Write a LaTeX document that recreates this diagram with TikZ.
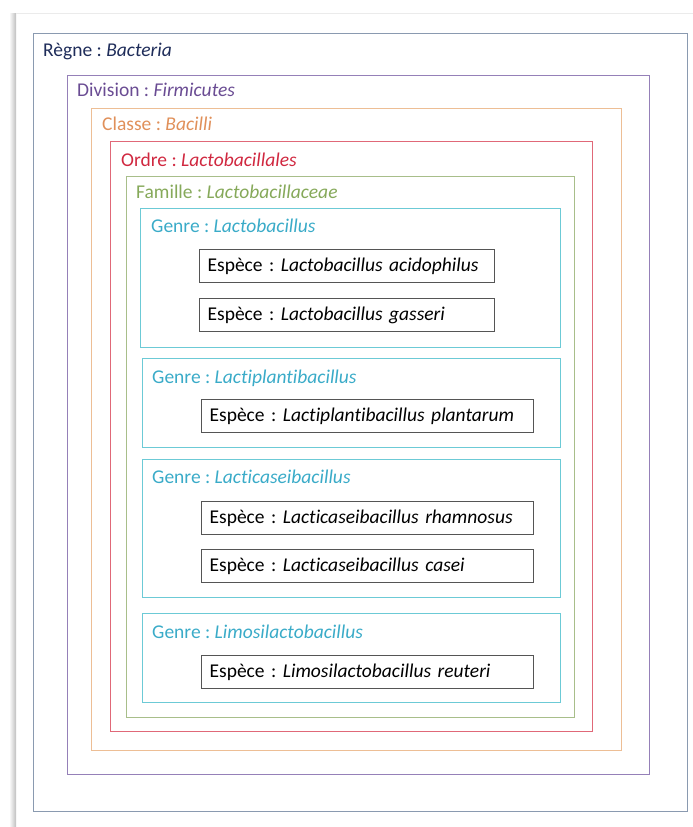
\documentclass[tikz,border=0pt]{standalone}
\usepackage{fontspec}
\setmainfont[Ligatures=NoCommon]{Carlito}
\usepackage{tikz}
\frenchspacing
\definecolor{regneC}{HTML}{8A9AB0}
\definecolor{regneT}{HTML}{1F2D5A}
\definecolor{divisionC}{HTML}{9580B8}
\definecolor{divisionT}{HTML}{6A4C93}
\definecolor{classeC}{HTML}{EDBE95}
\definecolor{classeT}{HTML}{E0905A}
\definecolor{ordreC}{HTML}{E06878}
\definecolor{ordreT}{HTML}{D02840}
\definecolor{familleC}{HTML}{A8BE8A}
\definecolor{familleT}{HTML}{86A95A}
\definecolor{genreC}{HTML}{6CCAD6}
\definecolor{genreT}{HTML}{3AABC8}
\definecolor{especeC}{HTML}{555555}
\tikzset{
  cadre/.style = {draw=#1, line width=1.3pt, inner sep=0pt, anchor=north west},
  titre/.style = {text=#1, inner sep=0pt, anchor=base west, font=\fontsize{19.5}{22}\selectfont},
  espece/.style = {draw=especeC, line width=1.3pt, anchor=north west, minimum height=33pt,
                   inner xsep=8pt, inner ysep=0pt, align=left, font=\fontsize{19.5}{22}\selectfont}
}

\begin{document}
\begin{tikzpicture}[x=1pt, y=-1pt]
\useasboundingbox (0,0) rectangle (693,827);
\shade[left color=white, right color=black!25] (9,13) rectangle (16,827);
\draw[black!8, line width=1pt] (16,13) -- (693,13);
\node[cadre=regneC, minimum width=654pt, minimum height=778pt] (regne) at (33,33) {};
\node[cadre=divisionC, minimum width=582pt, minimum height=699pt] (division) at (67,75) {};
\node[cadre=classeC, minimum width=530pt, minimum height=642pt] (classe) at (91,108) {};
\node[cadre=ordreC, minimum width=482pt, minimum height=590pt] (ordre) at (110,141) {};
\node[cadre=familleC, minimum width=448pt, minimum height=541pt] (famille) at (126,176) {};
\node[cadre=genreC, minimum width=420pt, minimum height=139pt] (lactobacillus) at (140,208) {};
\node[cadre=genreC, minimum width=418pt, minimum height=89pt] (lactiplantibacillus) at (142,358) {};
\node[cadre=genreC, minimum width=418pt, minimum height=138pt] (lacticaseibacillus) at (142,459) {};
\node[cadre=genreC, minimum width=418pt, minimum height=89pt] (limosilactobacillus) at (142,613) {};
\node[titre=regneT] (tregne) at (43,56) {Règne : \textit{Bacteria}};
\node[titre=divisionT] (tdivision) at (77,96) {Division : \textit{Firmicutes}};
\node[titre=classeT] (tclasse) at (102,130) {Classe : \textit{Bacilli}};
\node[titre=ordreT] (tordre) at (121,166) {Ordre : \textit{Lactobacillales}};
\node[titre=familleT] (tfamille) at (136,198) {Famille : \textit{Lactobacillaceae}};
\node[titre=genreT] (tlactobacillus) at (151,232) {Genre : \textit{Lactobacillus}};
\node[titre=genreT] (tlactiplantibacillus) at (152,383) {Genre : \textit{Lactiplantibacillus}};
\node[titre=genreT] (tlacticaseibacillus) at (152,483) {Genre : \textit{Lacticaseibacillus}};
\node[titre=genreT] (tlimosilactobacillus) at (152,638) {Genre : \textit{Limosilactobacillus}};
\node[espece, text width=279pt] (acidophilus) at (199,249) {Espèce : \textit{Lactobacillus acidophilus}};
\node[espece, text width=279pt] (gasseri) at (199,298) {Espèce : \textit{Lactobacillus gasseri}};
\node[espece, text width=316pt] (plantarum) at (201,399) {Espèce : \textit{Lactiplantibacillus plantarum}};
\node[espece, text width=316pt] (rhamnosus) at (201,501) {Espèce : \textit{Lacticaseibacillus rhamnosus}};
\node[espece, text width=316pt] (casei) at (201,549) {Espèce : \textit{Lacticaseibacillus casei}};
\node[espece, text width=316pt] (reuteri) at (201,655) {Espèce : \textit{Limosilactobacillus reuteri}};
\end{tikzpicture}
\end{document}
